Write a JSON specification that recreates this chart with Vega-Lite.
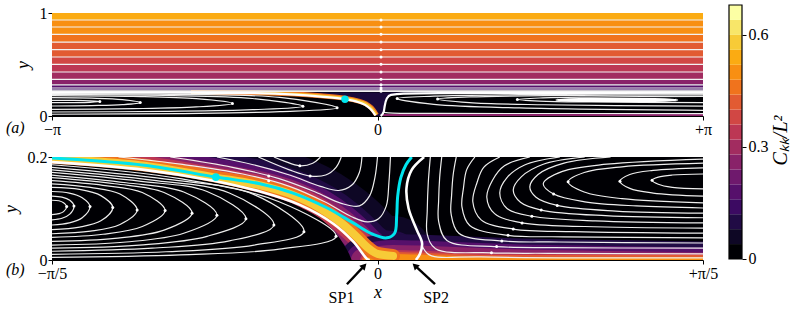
{
"$schema": "https://vega.github.io/schema/vega-lite/v6.json",
"background": "white",
"padding": {"left": 2, "top": 4, "right": 5, "bottom": 5},
"autosize": {"type": "pad"},
"config": {
 "font": "Liberation Serif",
 "axis": {"grid": false, "labelFont": "Liberation Serif", "labelFontSize": 16, "labelColor": "#000", "tickColor": "#000", "domainColor": "#000", "tickSize": 4, "labelPadding": 1, "titleFont": "Liberation Serif", "titleFontSize": 18, "titleFontStyle": "italic", "titleFontWeight": "normal", "titleColor": "#000", "labelFlush": false, "labelOverlap": false},
 "view": {"stroke": null}
},
"datasets": {
 "a_bands": [
  {"x":-3.1416,"x2":3.1416,"y":0.932,"y2":1,"c":0.54},
  {"x":-3.1416,"x2":3.1416,"y":0.864,"y2":0.932,"c":0.50},
  {"x":-3.1416,"x2":3.1416,"y":0.793,"y2":0.864,"c":0.50},
  {"x":-3.1416,"x2":3.1416,"y":0.718,"y2":0.793,"c":0.46},
  {"x":-3.1416,"x2":3.1416,"y":0.644,"y2":0.718,"c":0.42},
  {"x":-3.1416,"x2":3.1416,"y":0.573,"y2":0.644,"c":0.42},
  {"x":-3.1416,"x2":3.1416,"y":0.502,"y2":0.573,"c":0.38},
  {"x":-3.1416,"x2":3.1416,"y":0.427,"y2":0.502,"c":0.34},
  {"x":-3.1416,"x2":3.1416,"y":0.356,"y2":0.427,"c":0.30},
  {"x":-3.1416,"x2":3.1416,"y":0.303,"y2":0.356,"c":0.26},
  {"x":-3.1416,"x2":3.1416,"y":0.272,"y2":0.303,"c":0.18},
  {"x":-3.1416,"x2":3.1416,"y":0.252,"y2":0.272,"c":0.14},
  {"x":-3.1416,"x2":3.1416,"y":0.240,"y2":0.252,"c":0.10},
  {"x":-3.1416,"x2":3.1416,"y":0.226,"y2":0.240,"c":0.06}
 ],
 "a_lines": [
  {"x":-3.1416,"x2":3.1416,"y":0.932},{"x":-3.1416,"x2":3.1416,"y":0.864},{"x":-3.1416,"x2":3.1416,"y":0.793},
  {"x":-3.1416,"x2":3.1416,"y":0.718},{"x":-3.1416,"x2":3.1416,"y":0.644},{"x":-3.1416,"x2":3.1416,"y":0.573},
  {"x":-3.1416,"x2":3.1416,"y":0.502},{"x":-3.1416,"x2":3.1416,"y":0.427},{"x":-3.1416,"x2":3.1416,"y":0.356},
  {"x":-3.1416,"x2":3.1416,"y":0.303},{"x":-3.1416,"x2":3.1416,"y":0.272},{"x":-3.1416,"x2":3.1416,"y":0.252},
  {"x":-3.1416,"x2":3.1416,"y":0.240}
 ],
 "a_valley": [
  {"x":-0.8,"y":0.226,"y2":0.208},{"x":-0.55,"y":0.226,"y2":0.188},{"x":-0.314,"y":0.226,"y2":0.163},
  {"x":-0.2,"y":0.226,"y2":0.14},{"x":-0.12,"y":0.226,"y2":0.108},{"x":-0.07,"y":0.226,"y2":0.07},
  {"x":-0.04,"y":0.226,"y2":0.035},{"x":-0.02,"y":0.226,"y2":0.005},{"x":0.0,"y":0.226,"y2":0.0},
  {"x":0.03,"y":0.226,"y2":0.0},{"x":0.06,"y":0.226,"y2":0.04},{"x":0.07,"y":0.226,"y2":0.10},
  {"x":0.09,"y":0.226,"y2":0.17},{"x":0.13,"y":0.226,"y2":0.205},{"x":0.25,"y":0.226,"y2":0.218},
  {"x":0.6,"y":0.226,"y2":0.222}
 ],
 "a_glow": [
  {"i":0,"x":-1.8,"y":0.228},{"i":1,"x":-1.2,"y":0.226},{"i":2,"x":-0.8,"y":0.214},{"i":3,"x":-0.55,"y":0.196},
  {"i":4,"x":-0.314,"y":0.172},{"i":5,"x":-0.2,"y":0.150},{"i":6,"x":-0.11,"y":0.118},{"i":7,"x":-0.06,"y":0.080},
  {"i":8,"x":-0.03,"y":0.042},{"i":9,"x":-0.01,"y":0.01}
 ],
 "a_bottom": [{"i":0,"x":0.05,"y":0.0},{"i":1,"x":3.1416,"y":0.0}],
 "a_curves": [
  {"s":"L0","i":0,"x":-3.1416,"y":0.152},{"s":"L0","i":1,"x":-2.934,"y":0.151},{"s":"L0","i":2,"x":-2.774,"y":0.147},{"s":"L0","i":3,"x":-2.68,"y":0.140},{"s":"L0","i":4,"x":-2.774,"y":0.133},{"s":"L0","i":5,"x":-2.934,"y":0.130},{"s":"L0","i":6,"x":-3.1416,"y":0.129},
  {"s":"L1","i":0,"x":-3.1416,"y":0.178},{"s":"L1","i":1,"x":-2.759,"y":0.173},{"s":"L1","i":2,"x":-2.462,"y":0.159},{"s":"L1","i":3,"x":-2.29,"y":0.130},{"s":"L1","i":4,"x":-2.462,"y":0.110},{"s":"L1","i":5,"x":-2.759,"y":0.101},{"s":"L1","i":6,"x":-3.1416,"y":0.097},
  {"s":"L2","i":0,"x":-3.1416,"y":0.198},{"s":"L2","i":1,"x":-2.359,"y":0.190},{"s":"L2","i":2,"x":-1.750,"y":0.168},{"s":"L2","i":3,"x":-1.40,"y":0.122},{"s":"L2","i":4,"x":-1.750,"y":0.088},{"s":"L2","i":5,"x":-2.359,"y":0.071},{"s":"L2","i":6,"x":-3.1416,"y":0.065},
  {"s":"L3","i":0,"x":-3.1416,"y":0.210},{"s":"L3","i":1,"x":-2.053,"y":0.200},{"s":"L3","i":2,"x":-1.206,"y":0.170},{"s":"L3","i":3,"x":-0.72,"y":0.095},{"s":"L3","i":4,"x":-1.206,"y":0.061},{"s":"L3","i":5,"x":-2.053,"y":0.045},{"s":"L3","i":6,"x":-3.1416,"y":0.039},
  {"s":"L4","i":0,"x":-3.1416,"y":0.218},{"s":"L4","i":1,"x":-1.904,"y":0.210},{"s":"L4","i":2,"x":-0.942,"y":0.180},{"s":"L4","i":3,"x":-0.39,"y":0.080},{"s":"L4","i":4,"x":-0.942,"y":0.042},{"s":"L4","i":5,"x":-1.904,"y":0.024},{"s":"L4","i":6,"x":-3.1416,"y":0.017},
  {"s":"R0","i":0,"x":3.1416,"y":0.190},{"s":"R0","i":1,"x":2.066,"y":0.184},{"s":"R0","i":2,"x":1.565,"y":0.175},{"s":"R0","i":3,"x":1.35,"y":0.160},{"s":"R0","i":4,"x":1.565,"y":0.145},{"s":"R0","i":5,"x":2.066,"y":0.136},{"s":"R0","i":6,"x":3.1416,"y":0.130},
  {"s":"R1","i":0,"x":3.1416,"y":0.205},{"s":"R1","i":1,"x":1.604,"y":0.197},{"s":"R1","i":2,"x":0.887,"y":0.185},{"s":"R1","i":3,"x":0.58,"y":0.165},{"s":"R1","i":4,"x":0.887,"y":0.130},{"s":"R1","i":5,"x":1.604,"y":0.109},{"s":"R1","i":6,"x":3.1416,"y":0.095},
  {"s":"R2","i":0,"x":3.1416,"y":0.215},{"s":"R2","i":1,"x":1.37,"y":0.207},{"s":"R2","i":2,"x":0.544,"y":0.193},{"s":"R2","i":3,"x":0.19,"y":0.170},{"s":"R2","i":4,"x":0.544,"y":0.113},{"s":"R2","i":5,"x":1.37,"y":0.078},{"s":"R2","i":6,"x":3.1416,"y":0.055},
  {"s":"R3","i":0,"x":0.06,"y":0.035},{"s":"R3","i":1,"x":0.15,"y":0.027},{"s":"R3","i":2,"x":0.6,"y":0.025},{"s":"R3","i":3,"x":3.1416,"y":0.024}
 ],
 "a_ellipse": [
  {"i":0,"x":1.73,"y":0.155},{"i":1,"x":1.95,"y":0.161},{"i":2,"x":2.31,"y":0.162},{"i":3,"x":2.67,"y":0.161},
  {"i":4,"x":2.89,"y":0.155},{"i":5,"x":2.67,"y":0.149},{"i":6,"x":2.31,"y":0.148},{"i":7,"x":1.95,"y":0.149}
 ],
 "a_sep": [
  {"s":"SA","i":0,"x":-3.1416,"y":0.228},{"s":"SA","i":1,"x":-2.0,"y":0.227},{"s":"SA","i":2,"x":-1.2,"y":0.222},{"s":"SA","i":3,"x":-0.8,"y":0.208},{"s":"SA","i":4,"x":-0.55,"y":0.188},{"s":"SA","i":5,"x":-0.314,"y":0.163},{"s":"SA","i":6,"x":-0.2,"y":0.140},{"s":"SA","i":7,"x":-0.12,"y":0.108},{"s":"SA","i":8,"x":-0.07,"y":0.070},{"s":"SA","i":9,"x":-0.04,"y":0.035},{"s":"SA","i":10,"x":-0.02,"y":0.005},
  {"s":"RA","i":0,"x":0.03,"y":0.0},{"s":"RA","i":1,"x":0.06,"y":0.04},{"s":"RA","i":2,"x":0.07,"y":0.10},{"s":"RA","i":3,"x":0.09,"y":0.17},{"s":"RA","i":4,"x":0.13,"y":0.205},{"s":"RA","i":5,"x":0.25,"y":0.218},{"s":"RA","i":6,"x":0.6,"y":0.222},{"s":"RA","i":7,"x":1.5,"y":0.224},{"s":"RA","i":8,"x":3.1416,"y":0.226}
 ],
 "a_arrows": [
  {"x":0.034,"y":0.932},{"x":0.034,"y":0.864},{"x":0.034,"y":0.793},{"x":0.034,"y":0.718},{"x":0.034,"y":0.644},
  {"x":0.034,"y":0.573},{"x":0.034,"y":0.502},{"x":0.034,"y":0.427},{"x":0.034,"y":0.356},{"x":0.034,"y":0.303},
  {"x":0.034,"y":0.272},{"x":0.034,"y":0.252},{"x":0.034,"y":0.240},
  {"x":-2.68,"y":0.140},{"x":-2.29,"y":0.130},{"x":-1.40,"y":0.122},{"x":-0.72,"y":0.095},{"x":-0.39,"y":0.080},
  {"x":1.35,"y":0.160},{"x":0.58,"y":0.165},{"x":0.19,"y":0.170}
 ],
 "b_glow": [
  {"i":0,"x":-0.70,"y":0.205},{"i":1,"x":-0.6283,"y":0.198},{"i":2,"x":-0.45,"y":0.183},{"i":3,"x":-0.312,"y":0.160},
  {"i":4,"x":-0.227,"y":0.145},{"i":5,"x":-0.163,"y":0.126},{"i":6,"x":-0.11,"y":0.100},{"i":7,"x":-0.07,"y":0.072},
  {"i":8,"x":-0.04,"y":0.045},{"i":9,"x":-0.02,"y":0.025},{"i":10,"x":0.0,"y":0.012},{"i":11,"x":0.03,"y":0.008}
 ],
 "b_outer": [
  {"i":0,"x":-0.03,"y":0.0},{"i":1,"x":0.03,"y":0.008},{"i":2,"x":0.10,"y":0.006},{"i":3,"x":0.25,"y":0.0},{"i":4,"x":0.45,"y":-0.004},{"i":5,"x":0.70,"y":-0.008}
 ],
 "b_inner": [
  {"i":0,"x":-0.02,"y":0.0},{"i":1,"x":0.03,"y":0.006},{"i":2,"x":0.10,"y":0.004},{"i":3,"x":0.2,"y":0.0},{"i":4,"x":0.70,"y":0.0}
 ],
 "b_black": [
  {"x":-0.6283,"y":0.187},{"x":-0.45,"y":0.172},{"x":-0.317,"y":0.151},{"x":-0.22,"y":0.128},{"x":-0.15,"y":0.103},
  {"x":-0.1,"y":0.072},{"x":-0.08,"y":0.052},{"x":-0.065,"y":0.030},{"x":-0.055,"y":0.012},{"x":-0.05,"y":0.0}
 ],
 "b_curves": [
  {"s":"k0","i":0,"x":-0.6283,"y":0.116},{"s":"k0","i":1,"x":-0.615,"y":0.115},{"s":"k0","i":2,"x":-0.606,"y":0.111},{"s":"k0","i":3,"x":-0.600,"y":0.104},{"s":"k0","i":4,"x":-0.606,"y":0.094},{"s":"k0","i":5,"x":-0.615,"y":0.090},{"s":"k0","i":6,"x":-0.6283,"y":0.088},
  {"s":"k1","i":0,"x":-0.6283,"y":0.124},{"s":"k1","i":1,"x":-0.609,"y":0.122},{"s":"k1","i":2,"x":-0.594,"y":0.116},{"s":"k1","i":3,"x":-0.586,"y":0.105},{"s":"k1","i":4,"x":-0.594,"y":0.089},{"s":"k1","i":5,"x":-0.609,"y":0.081},{"s":"k1","i":6,"x":-0.6283,"y":0.078},
  {"s":"k2","i":0,"x":-0.6283,"y":0.133},{"s":"k2","i":1,"x":-0.595,"y":0.130},{"s":"k2","i":2,"x":-0.570,"y":0.121},{"s":"k2","i":3,"x":-0.555,"y":0.104},{"s":"k2","i":4,"x":-0.570,"y":0.082},{"s":"k2","i":5,"x":-0.595,"y":0.072},{"s":"k2","i":6,"x":-0.6283,"y":0.068},
  {"s":"k3","i":0,"x":-0.6283,"y":0.141},{"s":"k3","i":1,"x":-0.575,"y":0.137},{"s":"k3","i":2,"x":-0.534,"y":0.125},{"s":"k3","i":3,"x":-0.511,"y":0.102},{"s":"k3","i":4,"x":-0.534,"y":0.076},{"s":"k3","i":5,"x":-0.575,"y":0.064},{"s":"k3","i":6,"x":-0.6283,"y":0.059},
  {"s":"k4","i":0,"x":-0.6283,"y":0.148},{"s":"k4","i":1,"x":-0.554,"y":0.141},{"s":"k4","i":2,"x":-0.497,"y":0.128},{"s":"k4","i":3,"x":-0.464,"y":0.097},{"s":"k4","i":4,"x":-0.497,"y":0.069},{"s":"k4","i":5,"x":-0.554,"y":0.056},{"s":"k4","i":6,"x":-0.6283,"y":0.051},
  {"s":"k5","i":0,"x":-0.6283,"y":0.154},{"s":"k5","i":1,"x":-0.530,"y":0.145},{"s":"k5","i":2,"x":-0.454,"y":0.131},{"s":"k5","i":3,"x":-0.410,"y":0.096},{"s":"k5","i":4,"x":-0.454,"y":0.065},{"s":"k5","i":5,"x":-0.530,"y":0.050},{"s":"k5","i":6,"x":-0.6283,"y":0.044},
  {"s":"k6","i":0,"x":-0.6283,"y":0.160},{"s":"k6","i":1,"x":-0.507,"y":0.148},{"s":"k6","i":2,"x":-0.412,"y":0.131},{"s":"k6","i":3,"x":-0.358,"y":0.091},{"s":"k6","i":4,"x":-0.412,"y":0.058},{"s":"k6","i":5,"x":-0.507,"y":0.042},{"s":"k6","i":6,"x":-0.6283,"y":0.036},
  {"s":"k7","i":0,"x":-0.6283,"y":0.165},{"s":"k7","i":1,"x":-0.485,"y":0.150},{"s":"k7","i":2,"x":-0.374,"y":0.132},{"s":"k7","i":3,"x":-0.310,"y":0.087},{"s":"k7","i":4,"x":-0.374,"y":0.052},{"s":"k7","i":5,"x":-0.485,"y":0.035},{"s":"k7","i":6,"x":-0.6283,"y":0.029},
  {"s":"k8","i":0,"x":-0.6283,"y":0.170},{"s":"k8","i":1,"x":-0.460,"y":0.153},{"s":"k8","i":2,"x":-0.329,"y":0.133},{"s":"k8","i":3,"x":-0.254,"y":0.080},{"s":"k8","i":4,"x":-0.329,"y":0.046},{"s":"k8","i":5,"x":-0.460,"y":0.029},{"s":"k8","i":6,"x":-0.6283,"y":0.023},
  {"s":"k9","i":0,"x":-0.6283,"y":0.175},{"s":"k9","i":1,"x":-0.435,"y":0.155},{"s":"k9","i":2,"x":-0.286,"y":0.130},{"s":"k9","i":3,"x":-0.200,"y":0.068},{"s":"k9","i":4,"x":-0.286,"y":0.037},{"s":"k9","i":5,"x":-0.435,"y":0.023},{"s":"k9","i":6,"x":-0.6283,"y":0.017},
  {"s":"k10","i":0,"x":-0.6283,"y":0.180},{"s":"k10","i":1,"x":-0.408,"y":0.157},{"s":"k10","i":2,"x":-0.238,"y":0.127},{"s":"k10","i":3,"x":-0.142,"y":0.055},{"s":"k10","i":4,"x":-0.238,"y":0.029},{"s":"k10","i":5,"x":-0.408,"y":0.016},{"s":"k10","i":6,"x":-0.6283,"y":0.011},
  {"s":"k11","i":0,"x":-0.6283,"y":0.185},{"s":"k11","i":1,"x":-0.381,"y":0.158},{"s":"k11","i":2,"x":-0.190,"y":0.113},{"s":"k11","i":3,"x":-0.080,"y":0.046},{"s":"k11","i":4,"x":-0.190,"y":0.021},{"s":"k11","i":5,"x":-0.381,"y":0.010},{"s":"k11","i":6,"x":-0.6283,"y":0.005},
  {"s":"r0","i":0,"x":0.6283,"y":0.167},{"s":"r0","i":1,"x":0.569,"y":0.165},{"s":"r0","i":2,"x":0.542,"y":0.161},{"s":"r0","i":3,"x":0.530,"y":0.155},{"s":"r0","i":4,"x":0.542,"y":0.147},{"s":"r0","i":5,"x":0.569,"y":0.141},{"s":"r0","i":6,"x":0.6283,"y":0.138},
  {"s":"r1","i":0,"x":0.6283,"y":0.179},{"s":"r1","i":1,"x":0.532,"y":0.174},{"s":"r1","i":2,"x":0.487,"y":0.166},{"s":"r1","i":3,"x":0.468,"y":0.153},{"s":"r1","i":4,"x":0.487,"y":0.139},{"s":"r1","i":5,"x":0.532,"y":0.130},{"s":"r1","i":6,"x":0.6283,"y":0.124},
  {"s":"r2","i":0,"x":0.6283,"y":0.188},{"s":"r2","i":1,"x":0.472,"y":0.181},{"s":"r2","i":2,"x":0.399,"y":0.170},{"s":"r2","i":3,"x":0.368,"y":0.152},{"s":"r2","i":4,"x":0.399,"y":0.132},{"s":"r2","i":5,"x":0.472,"y":0.119},{"s":"r2","i":6,"x":0.6283,"y":0.111},
  {"s":"r3","i":0,"x":0.6283,"y":0.196},{"s":"r3","i":1,"x":0.443,"y":0.186},{"s":"r3","i":2,"x":0.357,"y":0.172},{"s":"r3","i":3,"x":0.320,"y":0.148},{"s":"r3","i":4,"x":0.340,"y":0.128},{"s":"r3","i":5,"x":0.40,"y":0.113},{"s":"r3","i":6,"x":0.50,"y":0.105},{"s":"r3","i":7,"x":0.6283,"y":0.101},
  {"s":"r4","i":0,"x":0.45,"y":0.2},{"s":"r4","i":1,"x":0.36,"y":0.188},{"s":"r4","i":2,"x":0.31,"y":0.166},{"s":"r4","i":3,"x":0.294,"y":0.142},{"s":"r4","i":4,"x":0.306,"y":0.122},{"s":"r4","i":5,"x":0.347,"y":0.106},{"s":"r4","i":6,"x":0.46,"y":0.095},{"s":"r4","i":7,"x":0.6283,"y":0.091},
  {"s":"r5","i":0,"x":0.40,"y":0.2},{"s":"r5","i":1,"x":0.32,"y":0.186},{"s":"r5","i":2,"x":0.278,"y":0.162},{"s":"r5","i":3,"x":0.262,"y":0.136},{"s":"r5","i":4,"x":0.276,"y":0.112},{"s":"r5","i":5,"x":0.316,"y":0.097},{"s":"r5","i":6,"x":0.44,"y":0.086},{"s":"r5","i":7,"x":0.6283,"y":0.082},
  {"s":"r6","i":0,"x":0.352,"y":0.2},{"s":"r6","i":1,"x":0.285,"y":0.185},{"s":"r6","i":2,"x":0.250,"y":0.160},{"s":"r6","i":3,"x":0.236,"y":0.130},{"s":"r6","i":4,"x":0.250,"y":0.100},{"s":"r6","i":5,"x":0.298,"y":0.085},{"s":"r6","i":6,"x":0.42,"y":0.076},{"s":"r6","i":7,"x":0.6283,"y":0.072},
  {"s":"r7","i":0,"x":0.294,"y":0.2},{"s":"r7","i":1,"x":0.245,"y":0.183},{"s":"r7","i":2,"x":0.222,"y":0.155},{"s":"r7","i":3,"x":0.211,"y":0.122},{"s":"r7","i":4,"x":0.226,"y":0.090},{"s":"r7","i":5,"x":0.279,"y":0.072},{"s":"r7","i":6,"x":0.40,"y":0.065},{"s":"r7","i":7,"x":0.6283,"y":0.062},
  {"s":"r8","i":0,"x":0.236,"y":0.2},{"s":"r8","i":1,"x":0.205,"y":0.180},{"s":"r8","i":2,"x":0.192,"y":0.150},{"s":"r8","i":3,"x":0.184,"y":0.113},{"s":"r8","i":4,"x":0.200,"y":0.078},{"s":"r8","i":5,"x":0.262,"y":0.060},{"s":"r8","i":6,"x":0.38,"y":0.055},{"s":"r8","i":7,"x":0.6283,"y":0.052},
  {"s":"r9","i":0,"x":0.188,"y":0.2},{"s":"r9","i":1,"x":0.172,"y":0.175},{"s":"r9","i":2,"x":0.166,"y":0.140},{"s":"r9","i":3,"x":0.163,"y":0.103},{"s":"r9","i":4,"x":0.178,"y":0.067},{"s":"r9","i":5,"x":0.252,"y":0.048},{"s":"r9","i":6,"x":0.36,"y":0.045},{"s":"r9","i":7,"x":0.6283,"y":0.043},
  {"s":"r10","i":0,"x":0.152,"y":0.2},{"s":"r10","i":1,"x":0.146,"y":0.165},{"s":"r10","i":2,"x":0.143,"y":0.125},{"s":"r10","i":3,"x":0.142,"y":0.090},{"s":"r10","i":4,"x":0.157,"y":0.052},{"s":"r10","i":5,"x":0.240,"y":0.037},{"s":"r10","i":6,"x":0.35,"y":0.035},{"s":"r10","i":7,"x":0.6283,"y":0.033},
  {"s":"r11","i":0,"x":0.124,"y":0.2},{"s":"r11","i":1,"x":0.120,"y":0.160},{"s":"r11","i":2,"x":0.118,"y":0.115},{"s":"r11","i":3,"x":0.118,"y":0.075},{"s":"r11","i":4,"x":0.134,"y":0.038},{"s":"r11","i":5,"x":0.230,"y":0.026},{"s":"r11","i":6,"x":0.34,"y":0.024},{"s":"r11","i":7,"x":0.6283,"y":0.023},
  {"s":"r12","i":0,"x":0.102,"y":0.2},{"s":"r12","i":1,"x":0.098,"y":0.150},{"s":"r12","i":2,"x":0.096,"y":0.095},{"s":"r12","i":3,"x":0.096,"y":0.050},{"s":"r12","i":4,"x":0.112,"y":0.022},{"s":"r12","i":5,"x":0.22,"y":0.014},{"s":"r12","i":6,"x":0.33,"y":0.013},{"s":"r12","i":7,"x":0.6283,"y":0.012},
  {"s":"r13","i":0,"x":0.085,"y":0.03},{"s":"r13","i":1,"x":0.10,"y":0.010},{"s":"r13","i":2,"x":0.2,"y":0.006},{"s":"r13","i":3,"x":0.6283,"y":0.004},
  {"s":"u1","i":0,"x":0.025,"y":0.2},{"s":"u1","i":1,"x":0.022,"y":0.15},{"s":"u1","i":2,"x":0.017,"y":0.105},{"s":"u1","i":3,"x":0.002,"y":0.080},{"s":"u1","i":4,"x":-0.02,"y":0.074},{"s":"u1","i":5,"x":-0.05,"y":0.084},{"s":"u1","i":6,"x":-0.10,"y":0.112},{"s":"u1","i":7,"x":-0.17,"y":0.143},{"s":"u1","i":8,"x":-0.26,"y":0.167},{"s":"u1","i":9,"x":-0.38,"y":0.186},{"s":"u1","i":10,"x":-0.50,"y":0.2},
  {"s":"u2","i":0,"x":0.0,"y":0.2},{"s":"u2","i":1,"x":-0.005,"y":0.16},{"s":"u2","i":2,"x":-0.015,"y":0.125},{"s":"u2","i":3,"x":-0.035,"y":0.105},{"s":"u2","i":4,"x":-0.07,"y":0.110},{"s":"u2","i":5,"x":-0.12,"y":0.132},{"s":"u2","i":6,"x":-0.19,"y":0.158},{"s":"u2","i":7,"x":-0.28,"y":0.180},{"s":"u2","i":8,"x":-0.40,"y":0.2},
  {"s":"u3","i":0,"x":-0.030,"y":0.2},{"s":"u3","i":1,"x":-0.035,"y":0.17},{"s":"u3","i":2,"x":-0.050,"y":0.145},{"s":"u3","i":3,"x":-0.075,"y":0.135},{"s":"u3","i":4,"x":-0.11,"y":0.143},{"s":"u3","i":5,"x":-0.17,"y":0.165},{"s":"u3","i":6,"x":-0.24,"y":0.185},{"s":"u3","i":7,"x":-0.31,"y":0.2},
  {"s":"u4","i":0,"x":-0.070,"y":0.2},{"s":"u4","i":1,"x":-0.080,"y":0.18},{"s":"u4","i":2,"x":-0.100,"y":0.165},{"s":"u4","i":3,"x":-0.13,"y":0.163},{"s":"u4","i":4,"x":-0.17,"y":0.175},{"s":"u4","i":5,"x":-0.23,"y":0.2},
  {"s":"u5","i":0,"x":-0.110,"y":0.2},{"s":"u5","i":1,"x":-0.125,"y":0.188},{"s":"u5","i":2,"x":-0.150,"y":0.183},{"s":"u5","i":3,"x":-0.18,"y":0.192},{"s":"u5","i":4,"x":-0.20,"y":0.2}
 ],
 "b_sep": [
  {"s":"SP1","i":0,"x":-0.6283,"y":0.190},{"s":"SP1","i":1,"x":-0.45,"y":0.175},{"s":"SP1","i":2,"x":-0.317,"y":0.154},{"s":"SP1","i":3,"x":-0.22,"y":0.131},{"s":"SP1","i":4,"x":-0.150,"y":0.107},{"s":"SP1","i":5,"x":-0.086,"y":0.071},{"s":"SP1","i":6,"x":-0.047,"y":0.036},{"s":"SP1","i":7,"x":-0.020,"y":0.002},{"s":"SP1","i":8,"x":-0.015,"y":0.0},
  {"s":"SP2","i":0,"x":0.090,"y":0.2},{"s":"SP2","i":1,"x":0.066,"y":0.175},{"s":"SP2","i":2,"x":0.056,"y":0.140},{"s":"SP2","i":3,"x":0.060,"y":0.100},{"s":"SP2","i":4,"x":0.076,"y":0.058},{"s":"SP2","i":5,"x":0.086,"y":0.033},{"s":"SP2","i":6,"x":0.082,"y":0.012},{"s":"SP2","i":7,"x":0.074,"y":0.0}
 ],
 "b_cyan": [
  {"i":0,"x":-0.6283,"y":0.198},{"i":1,"x":-0.45,"y":0.184},{"i":2,"x":-0.312,"y":0.161},{"i":3,"x":-0.227,"y":0.148},{"i":4,"x":-0.163,"y":0.130},{"i":5,"x":-0.097,"y":0.101},{"i":6,"x":-0.047,"y":0.072},{"i":7,"x":-0.009,"y":0.050},{"i":8,"x":0.018,"y":0.043},{"i":9,"x":0.033,"y":0.052},{"i":10,"x":0.037,"y":0.085},{"i":11,"x":0.039,"y":0.124},{"i":12,"x":0.045,"y":0.160},{"i":13,"x":0.055,"y":0.185},{"i":14,"x":0.066,"y":0.2}
 ],
 "b_arrows": [
  {"x":-0.600,"y":0.104},{"x":-0.586,"y":0.105},{"x":-0.555,"y":0.104},{"x":-0.511,"y":0.102},{"x":-0.464,"y":0.097},{"x":-0.410,"y":0.096},
  {"x":-0.358,"y":0.091},{"x":-0.310,"y":0.087},{"x":-0.254,"y":0.080},{"x":-0.200,"y":0.068},{"x":-0.142,"y":0.055},{"x":-0.080,"y":0.046},
  {"x":0.530,"y":0.155},{"x":0.468,"y":0.153},{"x":0.368,"y":0.152},{"x":0.340,"y":0.128},{"x":0.347,"y":0.106},{"x":0.316,"y":0.097},
  {"x":0.298,"y":0.085},{"x":0.279,"y":0.072},{"x":0.262,"y":0.060},{"x":0.252,"y":0.048},{"x":0.240,"y":0.037},{"x":0.230,"y":0.026},{"x":0.22,"y":0.014},
  {"x":-0.21,"y":0.154},{"x":-0.21,"y":0.163},{"x":-0.15,"y":0.183},{"x":-0.13,"y":0.163}
 ],
 "b_ptr": [
  {"s":"p1","i":0,"x":-0.059,"y":-0.047},{"s":"p1","i":1,"x":-0.0257,"y":-0.0115},
  {"s":"p2","i":0,"x":0.111,"y":-0.047},{"s":"p2","i":1,"x":0.0723,"y":-0.0111}
 ],
 "b_notes": [
  {"x":-0.0695,"y":-0.0738,"t":"SP1"},{"x":0.113,"y":-0.0738,"t":"SP2"}
 ],
 "cbar": [
  {"lo":0.00,"hi":0.04,"c":0.02},{"lo":0.04,"hi":0.08,"c":0.06},{"lo":0.08,"hi":0.12,"c":0.10},{"lo":0.12,"hi":0.16,"c":0.14},
  {"lo":0.16,"hi":0.20,"c":0.18},{"lo":0.20,"hi":0.24,"c":0.22},{"lo":0.24,"hi":0.28,"c":0.26},{"lo":0.28,"hi":0.32,"c":0.30},
  {"lo":0.32,"hi":0.36,"c":0.34},{"lo":0.36,"hi":0.40,"c":0.38},{"lo":0.40,"hi":0.44,"c":0.42},{"lo":0.44,"hi":0.48,"c":0.46},
  {"lo":0.48,"hi":0.52,"c":0.50},{"lo":0.52,"hi":0.56,"c":0.54},{"lo":0.56,"hi":0.60,"c":0.58},{"lo":0.60,"hi":0.64,"c":0.62},
  {"lo":0.64,"hi":0.68,"c":0.66}
 ]
},
"spacing": 10,
"hconcat": [
 {
  "bounds": "flush",
  "spacing": 41,
  "vconcat": [
   {
    "width": 651, "height": 103,
    "view": {"fill": "#000004", "stroke": null},
    "encoding": {
     "x": {"field": "x", "type": "quantitative", "scale": {"domain": [-3.14159, 3.14159], "nice": false, "zero": false},
           "axis": {"values": [-3.14159, 0, 3.14159], "labelExpr": "datum.value < -1 ? '−π' : datum.value > 1 ? '+π' : '0'", "title": null}},
     "y": {"field": "y", "type": "quantitative", "scale": {"domain": [0, 1], "nice": false, "zero": false},
           "axis": {"values": [0, 1], "labelExpr": "datum.value > 0.5 ? '1' : '0'", "title": "y", "titlePadding": 7}}
    },
    "layer": [
     {"data": {"name": "a_bands"}, "mark": {"type": "rect"},
      "encoding": {"x2": {"field": "x2"}, "y2": {"field": "y2"},
       "color": {"field": "c", "type": "quantitative", "legend": null,
        "scale": {"type": "quantize", "domain": [0, 0.68], "nice": false, "zero": false, "range": ["#000004","#0e0725","#210b45","#3c0a62","#56106b","#6f196d","#892269","#a22c60","#bc3754","#d14744","#e25b32","#f0731d","#f88f12","#fbab12","#f7cb37","#f8e669","#fcffa4"]}}}},
     {"data": {"name": "a_valley"}, "mark": {"type": "area", "color": "#1a0a3c", "interpolate": "monotone"}, "encoding": {"y2": {"field": "y2"}}},
     {"data": {"name": "a_glow"}, "mark": {"type": "line", "color": "#f0731d", "strokeWidth": 5, "interpolate": "monotone", "clip": true}, "encoding": {"order": {"field": "i"}}},
     {"data": {"name": "a_glow"}, "mark": {"type": "line", "color": "#f7cb37", "strokeWidth": 2.5, "interpolate": "monotone", "clip": true}, "encoding": {"order": {"field": "i"}}},
     {"data": {"name": "a_bottom"}, "mark": {"type": "line", "color": "#892269", "strokeWidth": 4, "clip": true}, "encoding": {"order": {"field": "i"}}},
     {"data": {"name": "a_lines"}, "mark": {"type": "rule", "color": "#f2f2f2", "strokeWidth": 1.2}, "encoding": {"x2": {"field": "x2"}}},
     {"data": {"name": "a_curves"}, "mark": {"type": "line", "color": "#eeeeee", "strokeWidth": 1.2, "interpolate": "catmull-rom"}, "encoding": {"detail": {"field": "s"}, "order": {"field": "i"}}},
     {"data": {"name": "a_ellipse"}, "mark": {"type": "line", "color": "#ffffff", "strokeWidth": 2.6, "interpolate": "cardinal-closed"}, "encoding": {"order": {"field": "i"}}},
     {"data": {"name": "a_sep"}, "mark": {"type": "line", "color": "#ffffff", "strokeWidth": 2.2, "interpolate": "monotone"}, "encoding": {"detail": {"field": "s"}, "order": {"field": "i"}}},
     {"data": {"name": "a_arrows"}, "mark": {"type": "point", "filled": true, "color": "#ffffff", "size": 9, "opacity": 1}},
     {"data": {"values": [{"x": -0.314, "y": 0.163}]}, "mark": {"type": "point", "filled": true, "color": "#00e5ee", "size": 55, "opacity": 1}},
     {"data": {"values": [{"x": -3.14159, "y": 0, "t": "(a)"}]}, "mark": {"type": "text", "align": "left", "baseline": "middle", "dx": -46, "dy": 12, "fontSize": 16, "fontStyle": "italic", "font": "Liberation Serif", "color": "#000"}, "encoding": {"text": {"field": "t"}}}
    ]
   },
   {
    "width": 651, "height": 103,
    "view": {"fill": "#000004", "stroke": null},
    "encoding": {
     "x": {"field": "x", "type": "quantitative", "scale": {"domain": [-0.6283185, 0.6283185], "nice": false, "zero": false},
           "axis": {"values": [-0.6283185, 0, 0.6283185], "labelExpr": "datum.value < -0.1 ? '−π/5' : datum.value > 0.1 ? '+π/5' : '0'", "title": "x", "titlePadding": 2}},
     "y": {"field": "y", "type": "quantitative", "scale": {"domain": [0, 0.2], "nice": false, "zero": false},
           "axis": {"values": [0, 0.2], "labelExpr": "datum.value > 0.1 ? '0.2' : '0'", "title": "y", "titlePadding": 7}}
    },
    "layer": [
     {"data": {"name": "b_glow"}, "mark": {"type": "line", "color": "#0e0725", "strokeWidth": 80, "interpolate": "monotone", "clip": true, "strokeCap": "round"}, "encoding": {"order": {"field": "i"}}},
     {"data": {"name": "b_glow"}, "mark": {"type": "line", "color": "#210b45", "strokeWidth": 50, "interpolate": "monotone", "clip": true, "strokeCap": "round"}, "encoding": {"order": {"field": "i"}}},
     {"data": {"name": "b_glow"}, "mark": {"type": "line", "color": "#56106b", "strokeWidth": 38, "interpolate": "monotone", "clip": true, "strokeCap": "round"}, "encoding": {"order": {"field": "i"}}},
     {"data": {"name": "b_glow"}, "mark": {"type": "line", "color": "#892269", "strokeWidth": 28, "interpolate": "monotone", "clip": true, "strokeCap": "round"}, "encoding": {"order": {"field": "i"}}},
     {"data": {"name": "b_glow"}, "mark": {"type": "line", "color": "#bc3754", "strokeWidth": 20, "interpolate": "monotone", "clip": true, "strokeCap": "round"}, "encoding": {"order": {"field": "i"}}},
     {"data": {"name": "b_outer"}, "mark": {"type": "line", "color": "#210b45", "strokeWidth": 44, "interpolate": "monotone", "clip": true, "strokeCap": "round"}, "encoding": {"order": {"field": "i"}}},
     {"data": {"name": "b_outer"}, "mark": {"type": "line", "color": "#56106b", "strokeWidth": 32, "interpolate": "monotone", "clip": true, "strokeCap": "round"}, "encoding": {"order": {"field": "i"}}},
     {"data": {"name": "b_outer"}, "mark": {"type": "line", "color": "#892269", "strokeWidth": 22, "interpolate": "monotone", "clip": true, "strokeCap": "round"}, "encoding": {"order": {"field": "i"}}},
     {"data": {"name": "b_inner"}, "mark": {"type": "line", "color": "#bc3754", "strokeWidth": 14, "interpolate": "monotone", "clip": true, "strokeCap": "round"}, "encoding": {"order": {"field": "i"}}},
     {"data": {"name": "b_inner"}, "mark": {"type": "line", "color": "#e25b32", "strokeWidth": 10, "interpolate": "monotone", "clip": true, "strokeCap": "round"}, "encoding": {"order": {"field": "i"}}},
     {"data": {"name": "b_inner"}, "mark": {"type": "line", "color": "#f88f12", "strokeWidth": 6, "interpolate": "monotone", "clip": true, "strokeCap": "round"}, "encoding": {"order": {"field": "i"}}},
     {"data": {"name": "b_glow"}, "mark": {"type": "line", "color": "#f0731d", "strokeWidth": 14, "interpolate": "monotone", "clip": true, "strokeCap": "round"}, "encoding": {"order": {"field": "i"}}},
     {"data": {"name": "b_glow"}, "mark": {"type": "line", "color": "#f7cb37", "strokeWidth": 8, "interpolate": "monotone", "clip": true, "strokeCap": "round"}, "encoding": {"order": {"field": "i"}}},
     {"data": {"name": "b_black"}, "mark": {"type": "area", "color": "#000004", "interpolate": "monotone"}, "encoding": {"y2": {"datum": 0}}},
     {"data": {"name": "b_curves"}, "mark": {"type": "line", "color": "#eeeeee", "strokeWidth": 1.2, "interpolate": "catmull-rom", "clip": true}, "encoding": {"detail": {"field": "s"}, "order": {"field": "i"}}},
     {"data": {"name": "b_sep"}, "mark": {"type": "line", "color": "#ffffff", "strokeWidth": 2.6, "interpolate": "catmull-rom", "clip": true}, "encoding": {"detail": {"field": "s"}, "order": {"field": "i"}}},
     {"data": {"name": "b_cyan"}, "mark": {"type": "line", "color": "#00e5ee", "strokeWidth": 3, "interpolate": "catmull-rom", "clip": true}, "encoding": {"order": {"field": "i"}}},
     {"data": {"values": [{"x": -0.312, "y": 0.161}]}, "mark": {"type": "point", "filled": true, "color": "#00e5ee", "size": 60, "opacity": 1}},
     {"data": {"name": "b_arrows"}, "mark": {"type": "point", "filled": true, "color": "#ffffff", "size": 9, "opacity": 1}},
     {"data": {"values": [{"x": -0.6283185, "y": 0, "t": "(b)"}]}, "mark": {"type": "text", "align": "left", "baseline": "middle", "dx": -46, "dy": 10, "fontSize": 16, "fontStyle": "italic", "font": "Liberation Serif", "color": "#000"}, "encoding": {"text": {"field": "t"}}},
     {"data": {"name": "b_notes"}, "mark": {"type": "text", "align": "center", "baseline": "middle", "fontSize": 16, "font": "Liberation Serif", "color": "#000"}, "encoding": {"text": {"field": "t"}}},
     {"data": {"name": "b_ptr"}, "mark": {"type": "line", "color": "#000", "strokeWidth": 2.4}, "encoding": {"detail": {"field": "s"}, "order": {"field": "i"}}},
     {"data": {"values": [{"x": -0.0257, "y": -0.0115}]}, "mark": {"type": "point", "shape": "triangle-up", "angle": 44, "filled": true, "color": "#000", "size": 55, "opacity": 1}},
     {"data": {"values": [{"x": 0.0723, "y": -0.0111}]}, "mark": {"type": "point", "shape": "triangle-up", "angle": -47, "filled": true, "color": "#000", "size": 55, "opacity": 1}}
    ]
   }
  ]
 },
 {
  "width": 13, "height": 247,
  "view": {"stroke": null},
  "layer": [
   {"data": {"name": "cbar"}, "mark": {"type": "rect"},
    "encoding": {
     "y": {"field": "lo", "type": "quantitative", "scale": {"domain": [-0.0027, 0.6586], "nice": false, "zero": false},
           "axis": {"orient": "right", "values": [0, 0.3, 0.6], "labelExpr": "datum.value > 0.5 ? '0.6' : datum.value > 0.1 ? '0.3' : '0'", "domain": false, "title": "Cₖₖ/L²", "titleFontSize": 20, "titleAngle": 270, "titleBaseline": "top", "titlePadding": 2, "titleY": 127, "labelPadding": 2}},
     "y2": {"field": "hi"},
     "color": {"field": "c", "type": "quantitative", "legend": null,
        "scale": {"type": "quantize", "domain": [0, 0.68], "nice": false, "zero": false, "range": ["#000004","#0e0725","#210b45","#3c0a62","#56106b","#6f196d","#892269","#a22c60","#bc3754","#d14744","#e25b32","#f0731d","#f88f12","#fbab12","#f7cb37","#f8e669","#fcffa4"]}}
    }},
   {"data": {"values": [{"lo": 0, "hi": 0.68}]}, "mark": {"type": "rect", "fillOpacity": 0, "stroke": "#000", "strokeWidth": 1.2},
    "encoding": {
     "y": {"field": "lo", "type": "quantitative",
           "axis": {"orient": "right", "values": [0, 0.3, 0.6], "labelExpr": "datum.value > 0.5 ? '0.6' : datum.value > 0.1 ? '0.3' : '0'", "domain": false, "title": "Cₖₖ/L²", "titleFontSize": 20, "titleAngle": 270, "titleBaseline": "top", "titlePadding": 2, "titleY": 127, "labelPadding": 2}},
     "y2": {"field": "hi"}
    }}
  ]
 }
]
}
